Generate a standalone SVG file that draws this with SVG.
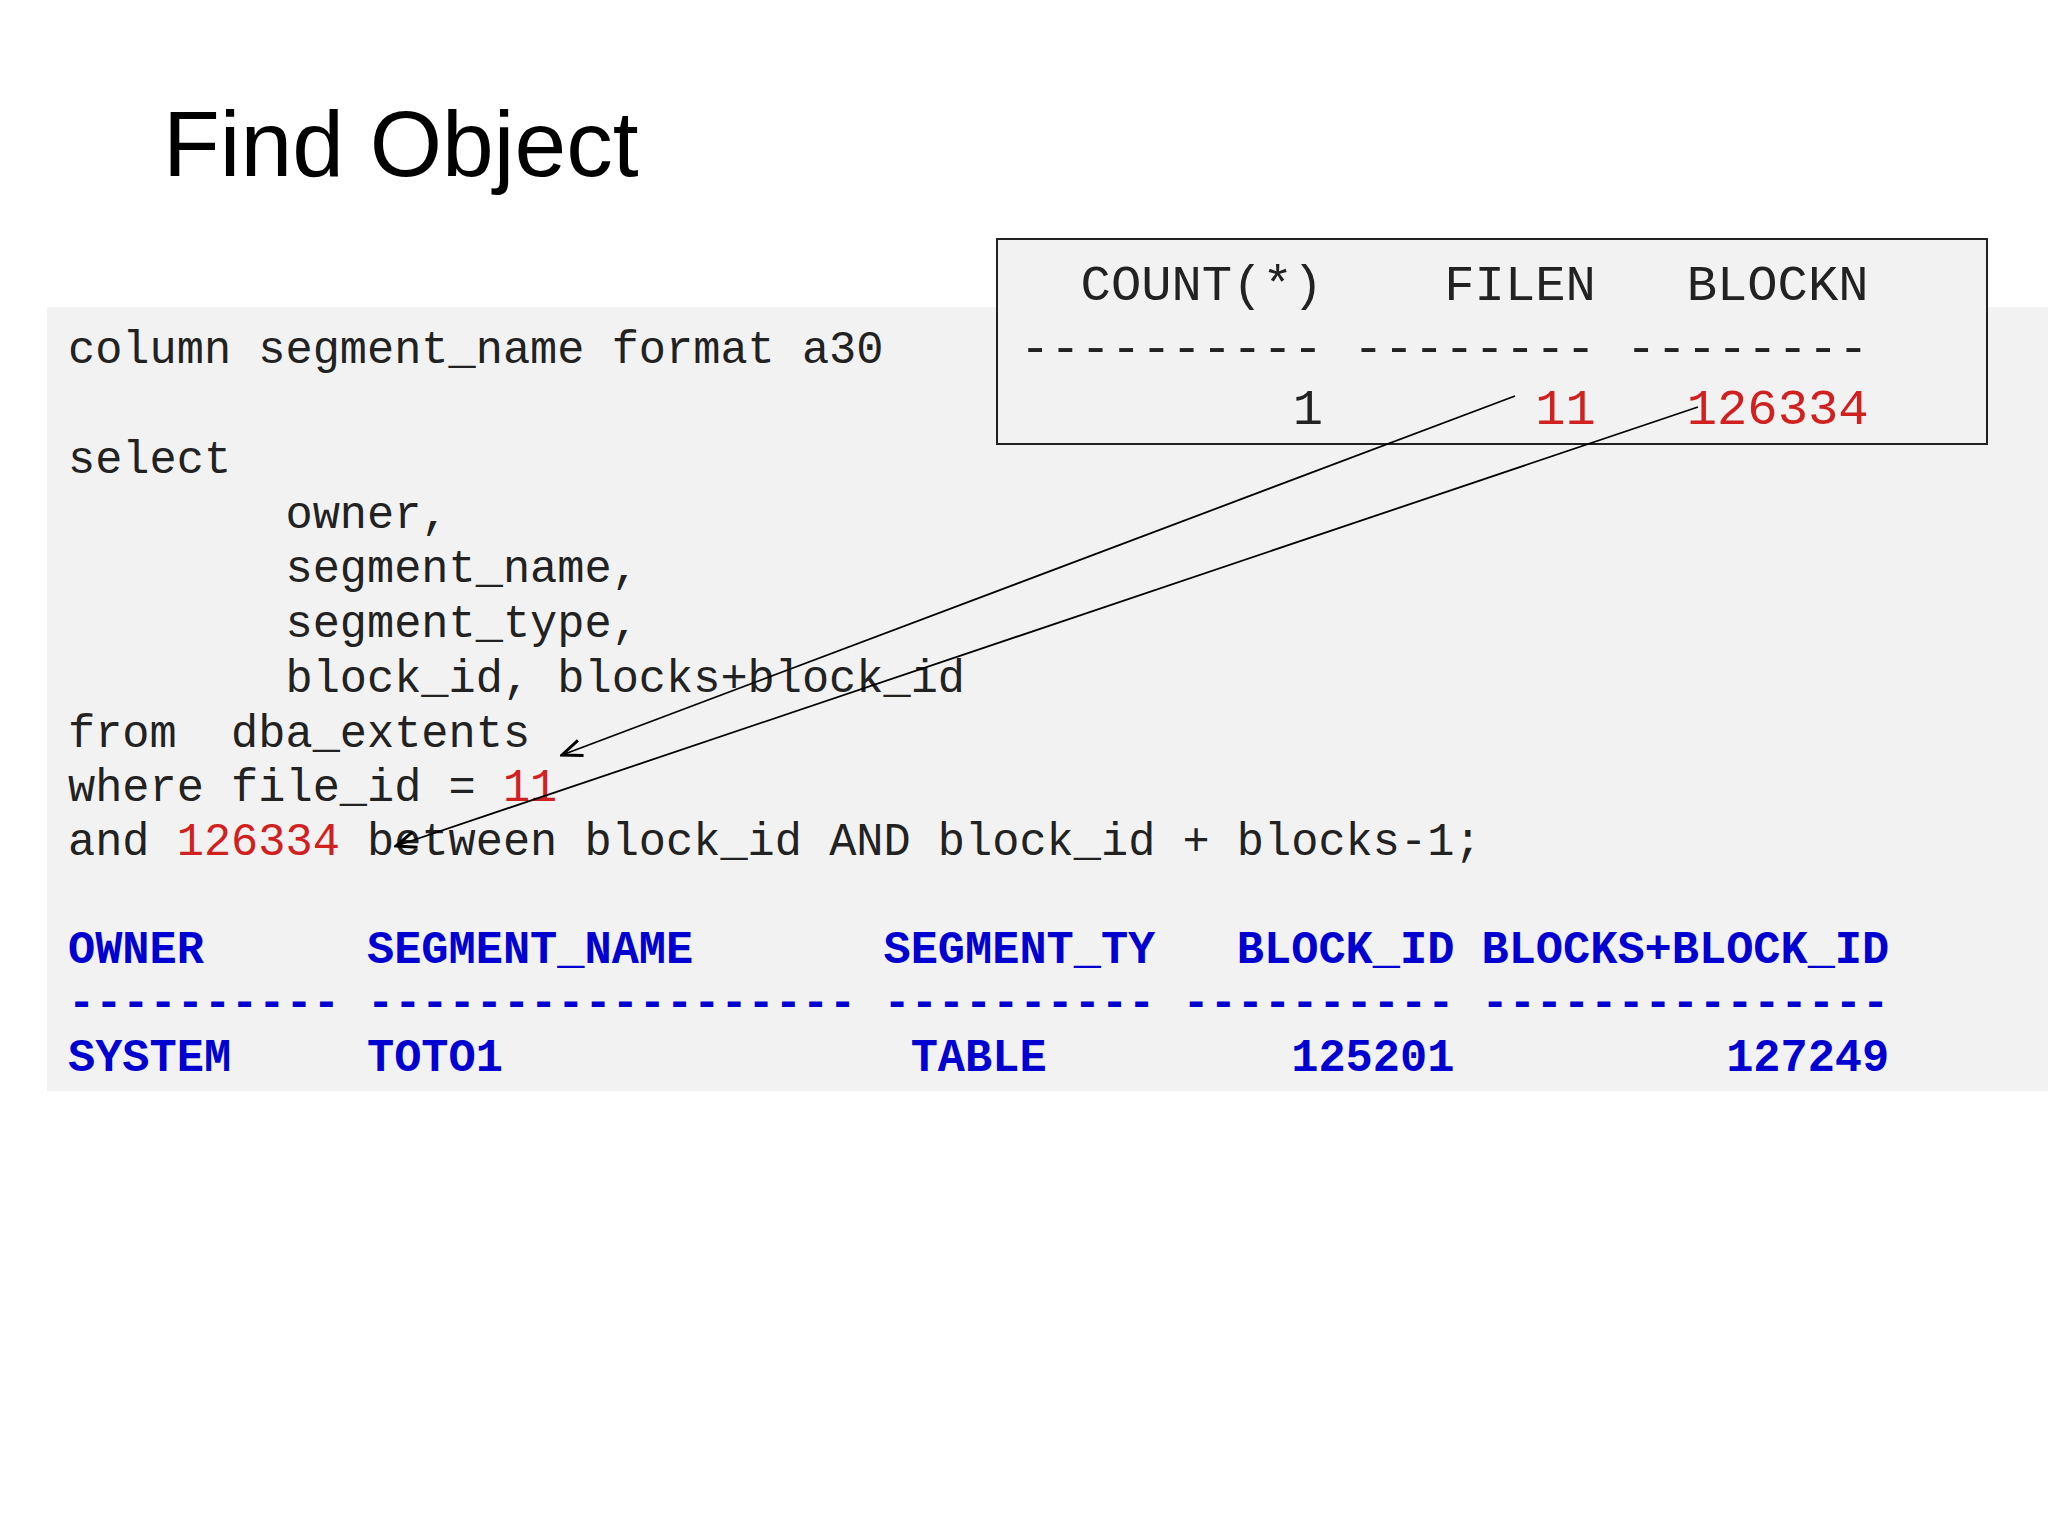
<svg xmlns="http://www.w3.org/2000/svg" width="2048" height="1536" viewBox="0 0 2048 1536">
<style>
text{white-space:pre}
.c{font-family:"Liberation Mono",monospace;font-size:45.3px;fill:#222}
.b{font-family:"Liberation Mono",monospace;font-size:45.3px;font-weight:bold;fill:#0000d0}
.k{font-family:"Liberation Mono",monospace;font-size:50.5px;fill:#222}
.r{fill:#d02020}
</style>
<defs><marker id="a" markerWidth="24" markerHeight="20" refX="22" refY="10" orient="auto" markerUnits="userSpaceOnUse"><path d="M2,2 L22,10 L2,18" fill="none" stroke="#000" stroke-width="3"/></marker></defs>
<rect width="2048" height="1536" fill="#fff"/>
<rect x="47" y="307" width="2001" height="784" fill="#f2f2f2"/>
<text x="163" y="176" font-family="Liberation Sans, Arial, sans-serif" font-size="93" fill="#000">Find Object</text>
<g id="code" class="c">
<text x="68" y="363">column segment_name format a30</text>
<text x="68" y="473">select</text>
<text x="68" y="528">        owner,</text>
<text x="68" y="582">        segment_name,</text>
<text x="68" y="637">        segment_type,</text>
<text x="68" y="692">        block_id, blocks+block_id</text>
<text x="68" y="747">from  dba_extents</text>
<text x="68" y="801">where file_id = <tspan class="r">11</tspan></text>
<text x="68" y="855">and <tspan class="r">126334</tspan> between block_id AND block_id + blocks-1;</text>
</g>
<g id="box">
<rect x="997" y="239" width="990" height="205" fill="#f2f2f2" stroke="#222" stroke-width="2"/>
<g class="k">
<text x="1020" y="300">  COUNT(*)    FILEN   BLOCKN</text>
<text x="1020" y="363">---------- -------- --------</text>
<text x="1020" y="424">         1       <tspan class="r">11</tspan>   <tspan class="r">126334</tspan></text>
</g>
</g>
<g id="result" class="b">
<text x="68" y="963">OWNER      SEGMENT_NAME       SEGMENT_TY   BLOCK_ID BLOCKS+BLOCK_ID</text>
<text x="68" y="1016">---------- ------------------ ---------- ---------- ---------------</text>
<text x="68" y="1071">SYSTEM     TOTO1               TABLE         125201          127249</text>
</g>
<g id="connectors" stroke="#000" stroke-width="1.8" fill="none">
<line x1="1515" y1="396" x2="562" y2="755" marker-end="url(#a)"/>
<line x1="1698" y1="407" x2="396" y2="846" marker-end="url(#a)"/>
</g>
</svg>
